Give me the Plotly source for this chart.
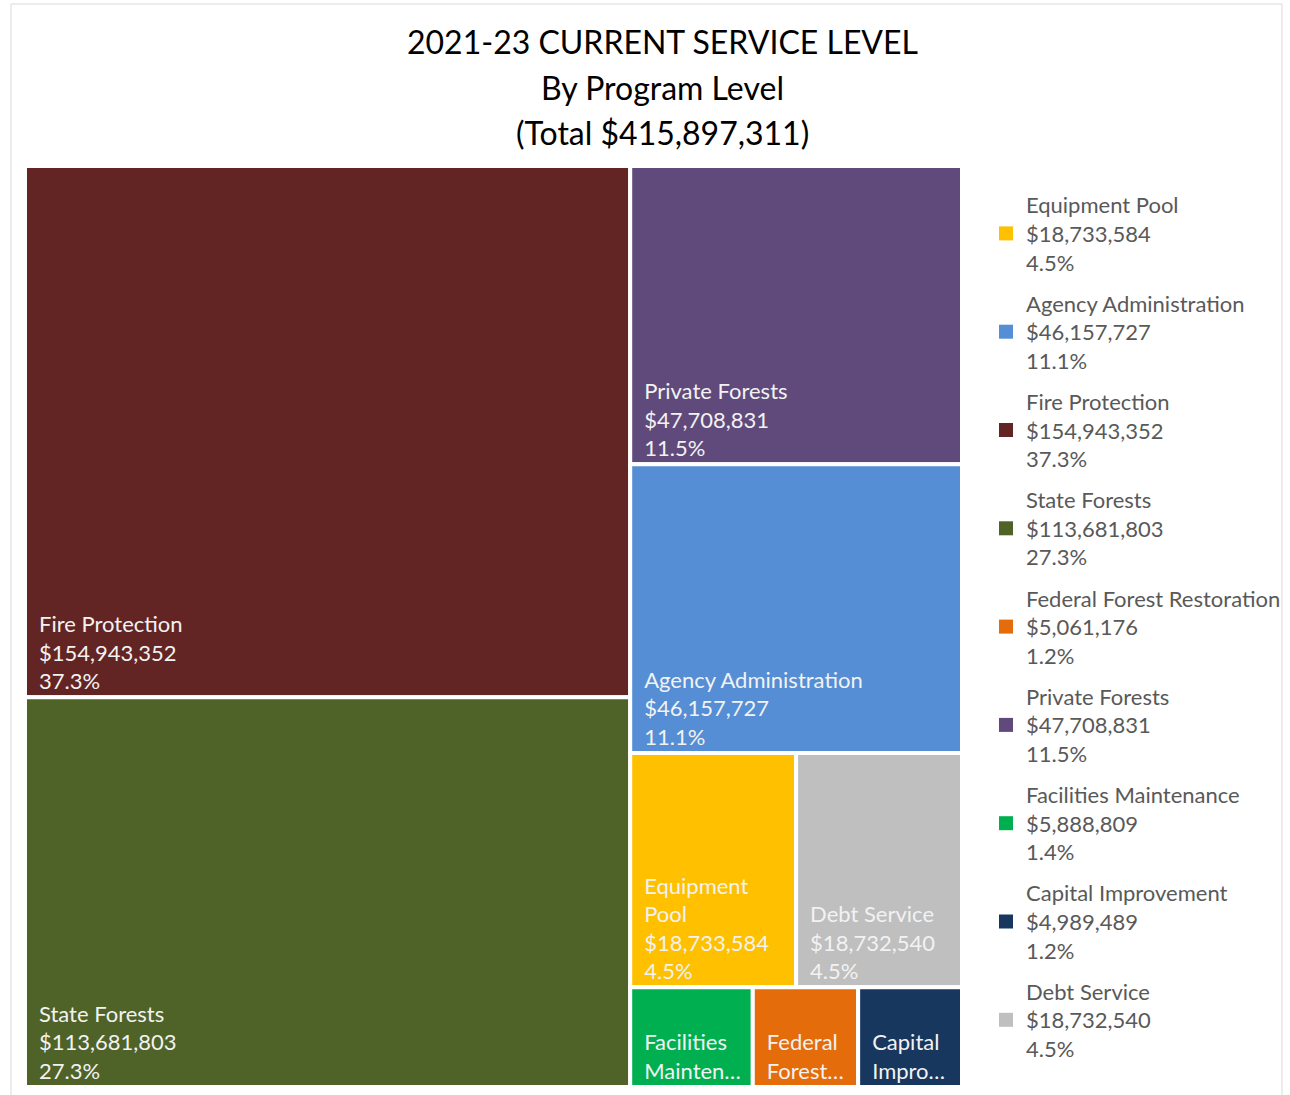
import plotly.graph_objects as go

# ---- data ----
programs = ["Equipment Pool", "Agency Administration", "Fire Protection", "State Forests",
            "Federal Forest Restoration", "Private Forests", "Facilities Maintenance",
            "Capital Improvement", "Debt Service"]
amounts = [18733584, 46157727, 154943352, 113681803, 5061176, 47708831, 5888809, 4989489, 18732540]
tile_names = ["Equipment<br>Pool", "Agency Administration", "Fire Protection", "State Forests",
              "Federal<br>Forest…", "Private Forests", "Facilities<br>Mainten…",
              "Capital<br>Impro…", "Debt Service"]
show_value = [True, True, True, True, False, True, False, False, True]
colors = ["#FFC000", "#558ED5", "#632523", "#4F6228", "#E46C0A", "#604A7B", "#00B050",
          "#17375E", "#BFBFBF"]

total = sum(amounts)
title_lines = ["2021-23 CURRENT SERVICE LEVEL", "By Program Level", f"(Total ${total:,})"]

W, H = 1290, 1095
FONT = "Lato"
IND = "\u2002"  # inner text indent

def money(v):
    return f"${v:,}"

def pct(v):
    return f"{v / total * 100:.1f}%"

tile_text = []
for n, v, s in zip(tile_names, amounts, show_value):
    lines = n.split("<br>") + ([money(v), pct(v)] if s else [])
    tile_text.append("<br>".join(IND + ln for ln in lines))

fig = go.Figure()
fig.add_trace(go.Treemap(
    labels=programs,
    parents=[""] * len(programs),
    values=amounts,
    text=tile_text,
    texttemplate="%{text}",
    textposition="bottom left",
    textfont=dict(family=FONT, size=22, color="#F2F2F2"),
    marker=dict(colors=colors, line=dict(color="white", width=4),
                pad=dict(t=0, l=0, r=0, b=0)),
    tiling=dict(packing="squarify", squarifyratio=1, pad=0),
    pathbar=dict(visible=False),
    sort=True,
    hoverinfo="label+value+percent root",
    domain=dict(x=[25 / W, 962 / W], y=[1 - 1087 / H, 1 - 166 / H]),
))

# legend entries
for p, v, c in zip(programs, amounts, colors):
    fig.add_trace(go.Scatter(
        x=[None], y=[None], mode="markers",
        marker=dict(symbol="square", size=14, color=c),
        name=f"{p}<br>{money(v)}<br>{pct(v)}",
        legendgroup=p, showlegend=True, hoverinfo="skip",
    ))

annotations = []
for i, t in enumerate(title_lines):
    annotations.append(dict(
        text=t, x=662 / W, y=1 - (42 + 45.5 * i) / H, xref="paper", yref="paper",
        xanchor="center", yanchor="middle", showarrow=False,
        font=dict(family=FONT, size=32, color="#000000"),
    ))

fig.update_layout(
    width=W, height=H,
    margin=dict(l=0, r=0, t=0, b=0),
    paper_bgcolor="white", plot_bgcolor="white",
    font=dict(family=FONT),
    xaxis=dict(visible=False, domain=[0.99, 1]),
    yaxis=dict(visible=False, domain=[0.99, 1]),
    annotations=annotations,
    legend=dict(
        x=986 / W, y=1 - 184 / H, xanchor="left", yanchor="top",
        font=dict(family=FONT, size=22, color="#595959"),
        tracegroupgap=9.5, itemsizing="trace", bgcolor="rgba(0,0,0,0)",
    ),
    shapes=[dict(type="rect", xref="paper", yref="paper",
                 x0=11 / W, x1=1282 / W, y0=-0.01, y1=1 - 4 / H,
                 line=dict(color="#D9D9D9", width=1), fillcolor="rgba(0,0,0,0)", layer="below")],
)

fig.write_html("out.html")
